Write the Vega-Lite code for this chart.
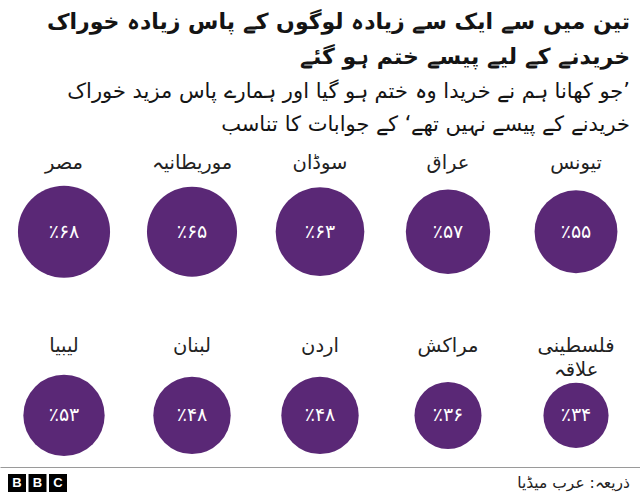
{
  "$schema": "https://vega.github.io/schema/vega-lite/v6.json",
  "padding": {"top": 11, "left": 0, "right": 0, "bottom": 0},
  "background": "white",
  "spacing": 0,
  "config": {
    "view": {"stroke": null},
    "font": "DejaVu Sans",
    "concat": {"spacing": 0}
  },
  "vconcat": [
    {
      "width": 640,
      "height": 327,
      "title": {
        "text": ["تین میں سے ایک سے زیادہ لوگوں کے پاس زیادہ خوراک", "خریدنے کے لیے پیسے ختم ہو گئے"],
        "subtitle": ["\u200f’جو کھانا ہم نے خریدا وہ ختم ہو گیا اور ہمارے پاس مزید خوراک", "خریدنے کے پیسے نہیں تھے‘ کے جوابات کا تناسب"],
        "anchor": "end",
        "frame": "group",
        "align": "right",
        "dx": -10,
        "font": "DejaVu Sans",
        "fontSize": 22,
        "fontWeight": "bold",
        "lineHeight": 35,
        "color": "#141414",
        "subtitleFont": "DejaVu Sans",
        "subtitleFontSize": 21,
        "subtitleLineHeight": 33,
        "subtitleColor": "#141414",
        "subtitlePadding": 12,
        "offset": 4
      },
      "data": {
        "values": [
          {"country": "مصر", "value": 68, "label": "٪۶۸", "row": 1, "col": 1},
          {"country": "موریطانیہ", "value": 65, "label": "٪۶۵", "row": 1, "col": 2},
          {"country": "سوڈان", "value": 63, "label": "٪۶۳", "row": 1, "col": 3},
          {"country": "عراق", "value": 57, "label": "٪۵۷", "row": 1, "col": 4},
          {"country": "تیونس", "value": 55, "label": "٪۵۵", "row": 1, "col": 5},
          {"country": "لیبیا", "value": 53, "label": "٪۵۳", "row": 2, "col": 1},
          {"country": "لبنان", "value": 48, "label": "٪۴۸", "row": 2, "col": 2},
          {"country": "اردن", "value": 48, "label": "٪۴۸", "row": 2, "col": 3},
          {"country": "مراکش", "value": 36, "label": "٪۳۶", "row": 2, "col": 4},
          {"country": "فلسطینی\nعلاقہ", "value": 34, "label": "٪۳۴", "row": 2, "col": 5}
        ]
      },
      "encoding": {
        "x": {
          "field": "col",
          "type": "ordinal",
          "scale": {"type": "point", "padding": 0.5},
          "axis": {"domain": true, "domainColor": "#9a9a9a", "domainWidth": 1, "ticks": false, "labels": false, "title": null, "grid": false}
        },
        "y": {
          "field": "row",
          "type": "ordinal",
          "scale": {"type": "point", "padding": 0.39, "align": 0.64},
          "axis": null
        }
      },
      "layer": [
        {
          "mark": {"type": "point", "shape": "circle", "filled": true, "opacity": 1, "color": "#5a2876"},
          "encoding": {
            "size": {"field": "value", "type": "quantitative", "scale": {"domain": [0, 100], "range": [0, 12480]}, "legend": null}
          }
        },
        {
          "mark": {"type": "text", "color": "white", "fontSize": 19, "baseline": "middle", "align": "center"},
          "encoding": {"text": {"field": "label"}}
        },
        {
          "mark": {"type": "text", "color": "#222222", "fontSize": 19.5, "baseline": "middle", "align": "center", "dy": -69, "lineBreak": "\n", "lineHeight": 24},
          "encoding": {"text": {"field": "country"}}
        }
      ]
    },
    {
      "spacing": 0,
      "hconcat": [
        {
          "width": 75,
          "height": 32,
          "data": {"values": [{"letter": "B", "slot": 1}, {"letter": "B", "slot": 2}, {"letter": "C", "slot": 3}]},
          "encoding": {
            "x": {"field": "slot", "type": "ordinal", "scale": {"type": "point", "padding": 0.829}, "axis": null}
          },
          "layer": [
            {"mark": {"type": "point", "shape": "square", "filled": true, "opacity": 1, "color": "black", "size": 324}},
            {"mark": {"type": "text", "color": "white", "font": "Liberation Sans", "fontWeight": "bold", "fontSize": 13, "baseline": "middle", "align": "center"}, "encoding": {"text": {"field": "letter"}}}
          ]
        },
        {
          "width": 555,
          "height": 32,
          "data": {"values": [{"source": "ذریعہ: عرب میڈیا"}]},
          "mark": {"type": "text", "color": "#222222", "fontSize": 15.5, "baseline": "middle", "align": "right"},
          "encoding": {
            "x": {"field": "source", "type": "nominal", "scale": {"type": "point", "padding": 0, "align": 1}, "axis": null},
            "text": {"field": "source"}
          }
        }
      ]
    }
  ]
}
